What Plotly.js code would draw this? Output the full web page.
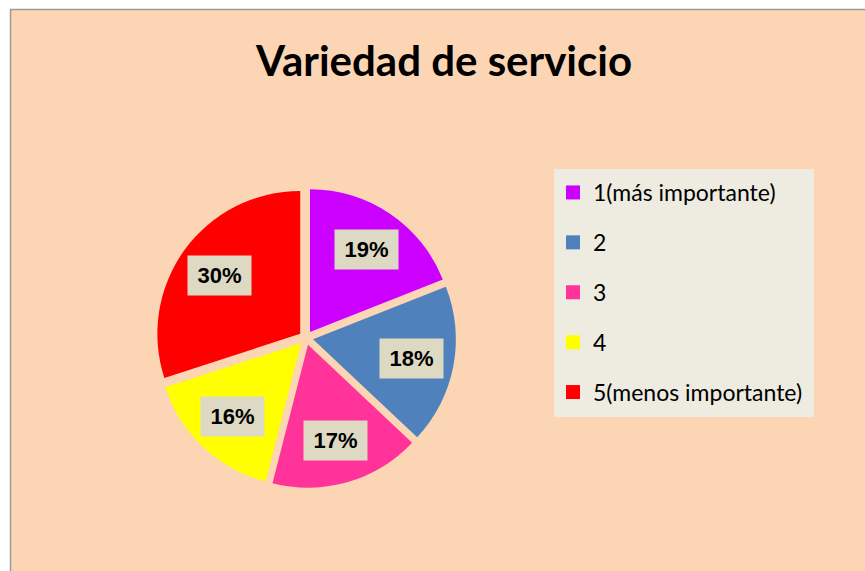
<!DOCTYPE html>
<html>
<head>
<meta charset="utf-8">
<script src="https://cdn.plot.ly/plotly-3.0.1.min.js"></script>
<style>
  html, body { margin: 0; padding: 0; background: #ffffff; }
  #chart { width: 865px; height: 571px; }
</style>
</head>
<body>
<div id="chart"></div>
<script>
// ---- data ----
const categories = ["1(más importante)", "2", "3", "4", "5(menos importante)"];
const values = [19, 18, 17, 16, 30];
const sliceColors = ["#CC00FF", "#4F81BD", "#FF3399", "#FFFF00", "#FF0000"];
const chartTitle = "Variedad de servicio";

// ---- layout constants ----
const W = 865, H = 571;
const pieCx = 306, pieCy = 338, pieHalf = 150;
const PULL = 0.05;
const LABEL_FRAC = 0.70;

const pieTrace = {
  type: "pie",
  values: values,
  labels: categories,
  sort: false,
  direction: "clockwise",
  rotation: 0,
  pull: PULL,
  marker: { colors: sliceColors, line: { width: 0 } },
  textinfo: "none",
  hoverinfo: "none",
  showlegend: false,
  domain: {
    x: [(pieCx - pieHalf) / W, (pieCx + pieHalf) / W],
    y: [1 - (pieCy + pieHalf) / H, 1 - (pieCy - pieHalf) / H]
  }
};

// legend entries (one per category) with wider spacing
const legendTraces = categories.map((c, i) => ({
  type: "scatter",
  x: [null], y: [null],
  mode: "markers",
  name: c,
  legendgroup: "g" + i,
  marker: { symbol: "square", size: 14, color: sliceColors[i] },
  hoverinfo: "none",
  showlegend: true
}));

const layout = {
  width: W, height: H,
  margin: { l: 0, r: 0, t: 0, b: 0 },
  paper_bgcolor: "#ffffff",
  plot_bgcolor: "rgba(0,0,0,0)",
  xaxis: { visible: false, fixedrange: true },
  yaxis: { visible: false, fixedrange: true },
  title: {
    text: chartTitle,
    x: 444 / W, xanchor: "center",
    y: 1 - 61 / H, yanchor: "middle",
    font: { family: "Lato, sans-serif", size: 42, weight: 700, color: "#000000" }
  },
  showlegend: true,
  legend: {
    x: 553 / W, xanchor: "left",
    y: 1 - 171 / H, yanchor: "top",
    bgcolor: "rgba(0,0,0,0)",
    borderwidth: 0,
    tracegroupgap: 17,
    font: { family: "Lato, sans-serif", size: 23, color: "#000000" },
    itemclick: false, itemdoubleclick: false
  },
  shapes: [{
    type: "rect", xref: "paper", yref: "paper", layer: "below",
    x0: 10.5 / W, x1: 1.02, y0: -0.02, y1: 1 - 9.5 / H,
    fillcolor: "#FCD5B4",
    line: { color: "#9A9A9A", width: 1.5 }
  }, {
    type: "rect", xref: "paper", yref: "paper", layer: "below",
    x0: 554 / W, x1: 814 / W, y0: 1 - 417 / H, y1: 1 - 169 / H,
    fillcolor: "#EEEBE0",
    line: { width: 0 }
  }],
  annotations: []
};

const gd = document.getElementById("chart");
Plotly.newPlot(gd, [pieTrace].concat(legendTraces), layout, { displayModeBar: false, staticPlot: true })
  .then(() => {
    const cd0 = gd.calcdata[0][0];
    const r = cd0.r, cx = cd0.cx, cy = cd0.cy;
    const total = values.reduce((a, b) => a + b, 0);
    let cum = 0;
    const anns = values.map((v) => {
      const mid = (cum + v / 2) / total * 2 * Math.PI;
      cum += v;
      const dist = r * (LABEL_FRAC + PULL);
      const px = cx + dist * Math.sin(mid);
      const py = cy - dist * Math.cos(mid);
      return {
        xref: "paper", yref: "paper",
        x: px / W, y: 1 - py / H,
        xanchor: "center", yanchor: "middle",
        text: "<b>" + Math.round(v / total * 100) + "%</b>",
        showarrow: false,
        bgcolor: "#DDD9C3",
        width: 61, height: 37,
        font: { family: "Liberation Sans, Arial, sans-serif", size: 22, color: "#000000" }
      };
    });
    return Plotly.relayout(gd, { annotations: anns });
  });
</script>
</body>
</html>
